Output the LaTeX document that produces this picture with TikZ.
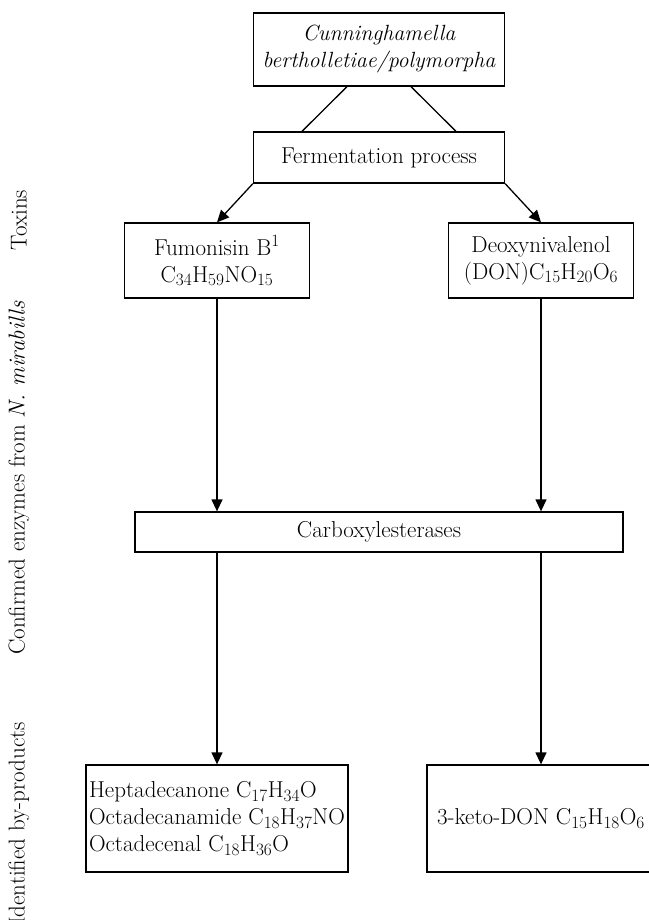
\documentclass[tikz,border=0pt]{standalone}
\usepackage{tikz}
\usetikzlibrary{shapes.geometric, arrows.meta}
\newcommand{\flowfont}{\fontsize{23}{27}\selectfont}
\tikzstyle{organism} = [rectangle, minimum width=251pt, minimum height=73pt, text centered, align=center, draw=black, line width=1.3pt, font=\fontsize{22}{27}\selectfont\itshape]
\tikzstyle{process} = [rectangle, minimum width=251pt, minimum height=51pt, text centered, align=center, draw=black, line width=1.3pt, font=\flowfont]
\tikzstyle{toxin} = [rectangle, minimum width=185pt, minimum height=75pt, text centered, align=center, draw=black, line width=1.3pt, font=\flowfont]
\tikzstyle{enzyme} = [rectangle, minimum width=488pt, minimum height=40pt, text centered, draw=black, line width=1.3pt, font=\flowfont]
\tikzstyle{product} = [rectangle, minimum height=107pt, align=left, draw=black, line width=1.3pt, font=\flowfont, inner sep=3pt]
\tikzstyle{sidelabel} = [rotate=90, inner sep=0pt, font=\flowfont]
\tikzstyle{link} = [line width=1.3pt]
\tikzstyle{arrow} = [line width=1.3pt,-{Triangle[length=12pt,width=11pt]}]

\begin{document}
\begin{tikzpicture}[x=1pt, y=1pt]
        \useasboundingbox (0,0) rectangle (648,-920);
        \node (cunn) [organism] at (379,-49.5) {Cunninghamella\\ bertholletiae/polymorpha};
        \node (ferm) [process, below of=cunn, node distance=108pt] {Fermentation process};
        \node (fum) [toxin, below of=ferm, node distance=103pt, xshift=-162pt] {Fumonisin B$^1$\\ C$_{34}$H$_{59}$NO$_{15}$};
        \node (don) [toxin, right of=fum, node distance=324pt] {Deoxynivalenol\\ (DON)C$_{15}$H$_{20}$O$_{6}$};
        \node (carb) [enzyme, below of=ferm, node distance=374.5pt] {Carboxylesterases};
        \node (prod1) [product, minimum width=262pt, below of=fum, node distance=558pt] {Heptadecanone C$_{17}$H$_{34}$O\\ Octadecanamide C$_{18}$H$_{37}$NO\\ Octadecenal C$_{18}$H$_{36}$O};
        \node (prod2) [product, minimum width=228pt, below of=don, node distance=558pt] {3-keto-DON C$_{15}$H$_{18}$O$_{6}$};

        \node (lblToxins) [sidelabel] at (19,-220) {Toxins};
        \node (lblEnzymes) [sidelabel] at (19,-478) {Confirmed enzymes from \textit{N. mirabills}};
        \node (lblProducts) [sidelabel, anchor=west] at (19,-925) {Identified by-products};

        \draw [link] ([xshift=-32pt]cunn.south) -- ([xshift=-77pt]ferm.north);
        \draw [link] ([xshift=32pt]cunn.south) -- ([xshift=77pt]ferm.north);
        \draw [arrow] (ferm.south west) -- (fum.north);
        \draw [arrow] (ferm.south east) -- (don.north);
        \draw [arrow] (fum.south) -- (fum.south |- carb.north);
        \draw [arrow] (don.south) -- (don.south |- carb.north);
        \draw [arrow] (prod1.north |- carb.south) -- (prod1.north);
        \draw [arrow] (prod2.north |- carb.south) -- (prod2.north);
    \end{tikzpicture}
\end{document}
